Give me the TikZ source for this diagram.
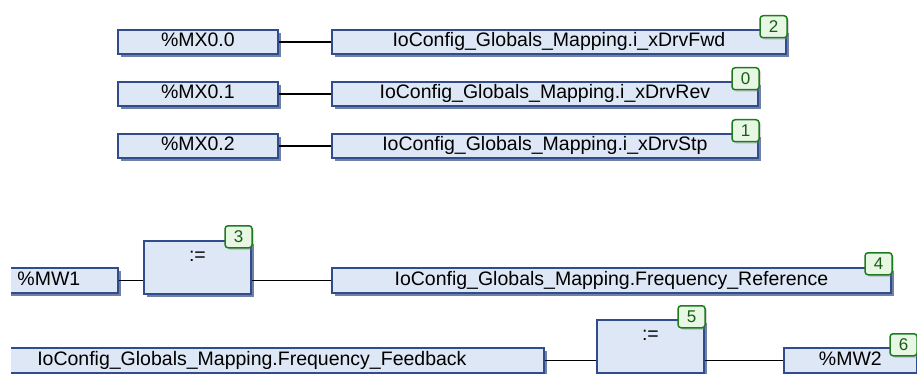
\documentclass[tikz,border=0pt]{standalone}
\usepackage{fontspec}
\setmainfont{Liberation Sans}
\usetikzlibrary{shadows, calc}
\definecolor{boxfill}{RGB}{222,231,246}
\definecolor{boxline}{RGB}{48,76,140}
\definecolor{boxshade}{RGB}{78,98,142}
\definecolor{tagfill}{RGB}{232,246,228}
\definecolor{tagline}{RGB}{30,124,30}
\tikzset{
    varbox/.style={rectangle, draw=boxline, fill=boxfill, line width=1.8pt, inner sep=0pt, minimum height=24pt, text height=14pt, text depth=4pt, anchor=north west, font=\fontsize{19.5}{20}\selectfont, drop shadow={shadow xshift=3.5pt, shadow yshift=-3.5pt, fill=boxshade, opacity=0.8}},
    asgbox/.style={varbox, minimum width=107pt, text height=21pt, text depth=32pt},
    badge/.style={rectangle, rounded corners=3pt, draw=tagline, fill=tagfill, line width=1.5pt, minimum width=27pt, minimum height=22pt, inner sep=0pt, anchor=north east, text=tagline!75!black, font=\fontsize{17}{18}\selectfont, drop shadow={shadow xshift=2pt, shadow yshift=-2pt, fill=gray, opacity=0.3}},
    wire/.style={line width=1.6pt, black},
}

\begin{document}
\begin{tikzpicture}[x=1pt, y=-1pt]
    \useasboundingbox (0,0) rectangle (917,374);
    \begin{scope}
        \clip (11,0) rectangle (917,374);
        % bit mappings
        \node[varbox, minimum width=160pt] (mxFwd) at (117,29) {\%MX0.0};
        \node[varbox, minimum width=454pt] (vFwd) at (331,29) {IoConfig\_Globals\_Mapping.i\_xDrvFwd};
        \node[varbox, minimum width=160pt] (mxRev) at (117,81) {\%MX0.1};
        \node[varbox, minimum width=426pt] (vRev) at (331,81) {IoConfig\_Globals\_Mapping.i\_xDrvRev};
        \node[varbox, minimum width=160pt] (mxStp) at (117,133) {\%MX0.2};
        \node[varbox, minimum width=426pt] (vStp) at (331,133) {IoConfig\_Globals\_Mapping.i\_xDrvStp};
        \draw[wire] (mxFwd) -- (vFwd);
        \draw[wire] (mxRev) -- (vRev);
        \draw[wire] (mxStp) -- (vStp);
        % frequency assignments
        \node[varbox, minimum width=138pt, minimum height=25pt] (mwIn) at (-21,267) {\%MW1};
        \node[asgbox] (asgRef) at (143,240) {:=};
        \node[varbox, minimum width=559pt, minimum height=25pt] (vRef) at (331,267) {IoConfig\_Globals\_Mapping.Frequency\_Reference};
        \node[varbox, minimum width=584pt, minimum height=25pt] (vFbk) at (-41,347) {IoConfig\_Globals\_Mapping.Frequency\_Feedback};
        \node[asgbox] (asgFbk) at (596,319) {:=};
        \node[varbox, minimum width=133pt, minimum height=25pt] (mwOut) at (783,347) {\%MW2};
        \draw[wire] (mwIn.east) -- (mwIn.east -| asgRef.west);
        \draw[wire] (asgRef.east |- vRef.west) -- (vRef.west);
        \draw[wire] (vFbk.east) -- (vFbk.east -| asgFbk.west);
        \draw[wire] (asgFbk.east |- mwOut.west) -- (mwOut.west);
        % execution order
        \node[badge] (tFwd) at ([shift={(1pt,14pt)}]vFwd.north east) {2};
        \node[badge] (tRev) at ([shift={(1pt,14pt)}]vRev.north east) {0};
        \node[badge] (tStp) at ([shift={(1pt,14pt)}]vStp.north east) {1};
        \node[badge] (tAsgRef) at ([shift={(1pt,15pt)}]asgRef.north east) {3};
        \node[badge] (tRef) at ([shift={(1pt,15pt)}]vRef.north east) {4};
        \node[badge] (tAsgFbk) at ([shift={(1pt,14pt)}]asgFbk.north east) {5};
        \node[badge] (tOut) at ([shift={(0pt,14pt)}]mwOut.north east) {6};
    \end{scope}
\end{tikzpicture}
\end{document}
